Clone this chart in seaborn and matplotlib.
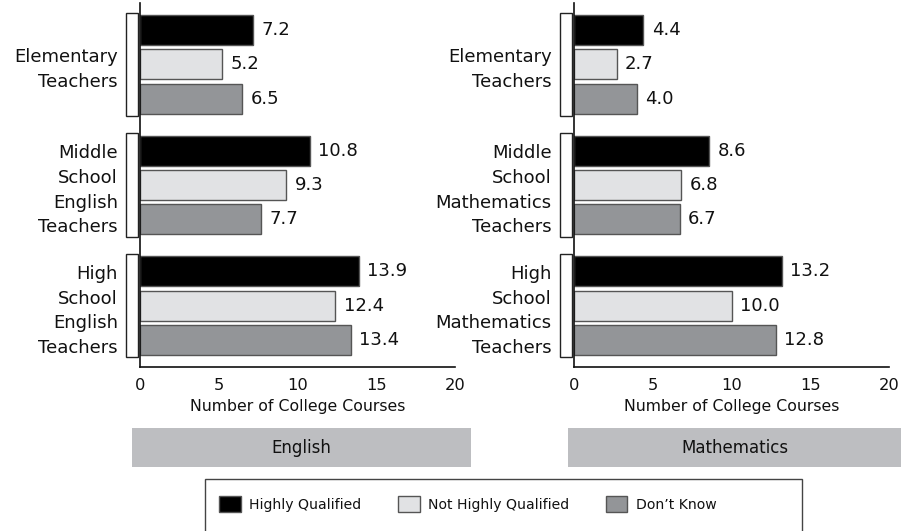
import matplotlib
matplotlib.use("Agg")
import matplotlib.pyplot as plt
import matplotlib.transforms as mtransforms
from matplotlib.patches import Rectangle, Patch
import seaborn as sns
import pandas as pd

# ---------------- data ----------------
statuses = ["Highly Qualified", "Not Highly Qualified", "Don\u2019t Know"]
groups_en = ["Elementary\nTeachers", "Middle\nSchool\nEnglish\nTeachers",
             "High\nSchool\nEnglish\nTeachers"]
groups_ma = ["Elementary\nTeachers", "Middle\nSchool\nMathematics\nTeachers",
             "High\nSchool\nMathematics\nTeachers"]
english_hq = [7.2, 10.8, 13.9]
english_nhq = [5.2, 9.3, 12.4]
english_dk = [6.5, 7.7, 13.4]
math_hq = [4.4, 8.6, 13.2]
math_nhq = [2.7, 6.8, 10.0]
math_dk = [4.0, 6.7, 12.8]
panel_titles = ["English", "Mathematics"]
xticks = [0, 5, 10, 15, 20]
xlabel = "Number of College Courses"

colors = ["#000000", "#e1e2e4", "#939598"]
header_color = "#bdbec1"


def long_df(groups, hq, nhq, dk):
    rows = []
    for vals, st in zip([hq, nhq, dk], statuses):
        for g, v in zip(groups, vals):
            rows.append({"group": g, "status": st, "value": v})
    return pd.DataFrame(rows)


df_en = long_df(groups_en, english_hq, english_nhq, english_dk)
df_ma = long_df(groups_ma, math_hq, math_nhq, math_dk)

# ---------------- style ----------------
sns.set_style("white")
plt.rcParams["font.family"] = ["DejaVu Sans"]

W, H = 901, 531
fig = plt.figure(figsize=(W / 100, H / 100), dpi=100)

ax_bottom = 1 - 367 / H
ax_top = 1 - 3 / H
axes_px = [(140, 455), (574, 889)]

panels = [(df_en, groups_en), (df_ma, groups_ma)]
for (x0, x1), (df, groups), title in zip(axes_px, panels, panel_titles):
    ax = fig.add_axes([x0 / W, ax_bottom, (x1 - x0) / W, ax_top - ax_bottom])
    sns.barplot(data=df, y="group", x="value", hue="status", order=groups,
                hue_order=statuses, palette=colors, orient="h", width=0.854,
                gap=0.125, edgecolor="#555555", linewidth=1, ax=ax,
                legend=False, errorbar=None, saturation=1)
    for cont in ax.containers:
        ax.bar_label(cont, fmt="%.1f", padding=6, fontsize=13, color="#111111")
    ax.set_xlim(0, 20)
    ax.set_ylim(2.51, -0.51)
    ax.set_xticks(xticks)
    ax.set_xticklabels([str(t) for t in xticks], fontsize=11.7, color="#111111")
    ax.set_ylabel("")
    ax.set_xlabel(xlabel, fontsize=11.3, labelpad=4, color="#111111")
    ax.tick_params(axis="x", length=0, pad=8)
    ax.tick_params(axis="y", length=0, pad=16)
    for t in ax.get_yticklabels():
        t.set_fontsize(13)
        t.set_color("#111111")
        t.set_linespacing(1.48)
        t.set_horizontalalignment("right")
    sns.despine(ax=ax, top=True, right=True)
    for s in ["left", "bottom"]:
        ax.spines[s].set_color("#111111")
        ax.spines[s].set_linewidth(1.2)
    # group brackets
    axw = x1 - x0
    trans = mtransforms.blended_transform_factory(ax.transAxes, ax.transData)
    for i in range(len(groups)):
        r = Rectangle((-14 / axw, i - 0.43), 12 / axw, 0.86, transform=trans,
                      facecolor="white", edgecolor="#222222", linewidth=1,
                      clip_on=False)
        ax.add_patch(r)

# panel header boxes
headers = [(132, 471), (568, 905)]
for (hx0, hx1), title in zip(headers, panel_titles):
    fig.add_artist(Rectangle((hx0 / W, 1 - 467 / H), (hx1 - hx0) / W, 39 / H,
                             transform=fig.transFigure, facecolor=header_color,
                             edgecolor="none"))
tx = [(132 + 471) / 2, 734.5]
for x, title in zip(tx, panel_titles):
    fig.text(x / W, 1 - 448 / H, title, ha="center", va="center", fontsize=12,
             color="#111111")

# legend frame
fig.add_artist(Rectangle((205 / W, -0.05), 597 / W, 0.05 + 1 - 479 / H,
                         transform=fig.transFigure, facecolor="white",
                         edgecolor="#444444", linewidth=1))
handles = [Patch(facecolor=c, edgecolor="#555555", linewidth=1) for c in colors]
fig.legend(handles, statuses, loc="center left",
           bbox_to_anchor=(219 / W, 1 - 504 / H), ncol=3, frameon=False,
           fontsize=10.1, handlelength=1.55, handleheight=1.4, handletextpad=0.6,
           columnspacing=2.6, borderpad=0, borderaxespad=0,
           labelcolor="#111111")

fig.savefig("out.png", dpi=100)
